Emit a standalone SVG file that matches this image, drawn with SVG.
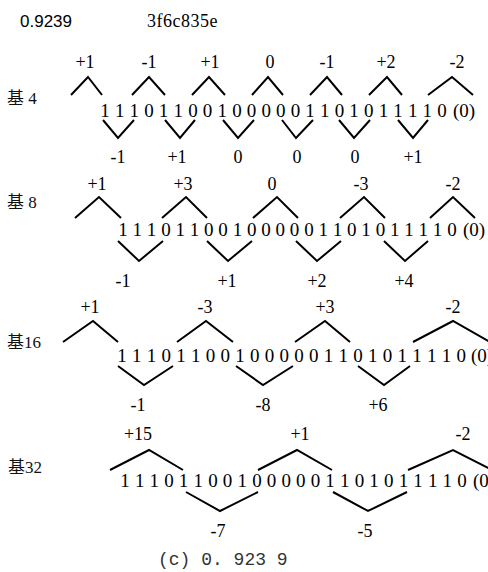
<svg xmlns="http://www.w3.org/2000/svg" width="488" height="572" viewBox="0 0 488 572">
  <style>
    .bg { fill: #ffffff; }
    .bits, .val { font-family: "Liberation Serif", "Times New Roman", serif; fill: #000; text-anchor: middle; }
    .bits { font-size: 19px; }
    .val { font-size: 18px; }
    .radix { font-family: "Liberation Serif", "Noto Sans CJK SC", serif; font-size: 17px; fill: #111; }
    .head-num { font-family: "Liberation Sans", Arial, sans-serif; font-size: 17px; fill: #000; }
    .head-hex { font-family: "Liberation Serif", "Times New Roman", serif; font-size: 18px; fill: #000; letter-spacing: 0.5px; }
    .caption { font-family: "Liberation Mono", "Courier New", monospace; font-size: 18px; fill: #333; }
    .arc { fill: none; stroke: #000; stroke-width: 2; stroke-linejoin: miter; stroke-linecap: butt; }
  </style>
  <rect class="bg" x="0" y="0" width="488" height="572"/>

  <!-- header: value and its hex encoding -->
  <g id="header">
    <text class="head-num" x="20" y="27">0.9239</text>
    <text class="head-hex" x="147" y="27">3f6c835e</text>
  </g>

  <!-- radix-4 recoding -->
  <g id="radix4">
    <text class="radix" x="7" y="104">基 4</text>
    <text class="bits" y="117" x="105 119.7 134.3 149 163.6 178.3 192.9 207.6 222.2 236.9 251.5 266.2 280.8 295.5 310.1 324.8 339.4 354.1 368.7 383.4 398 412.7 427.3 442">111011001000001101011110</text>
    <text class="bits" x="464" y="117">(0)</text>
    <g class="arcs">
      <polyline class="arc" points="71,95 88,77 102,95"/>
      <polyline class="arc" points="132,95 149,77 165,95"/>
      <polyline class="arc" points="192,95 209,77 225,95"/>
      <polyline class="arc" points="252,95 268,77 283,95"/>
      <polyline class="arc" points="310,95 327,77 342,95"/>
      <polyline class="arc" points="369,95 387,77 402,95"/>
      <polyline class="arc" points="428,95 452,77 473,95"/>
      <polyline class="arc" points="103,120 118,138 134,120"/>
      <polyline class="arc" points="165,120 180,138 195,120"/>
      <polyline class="arc" points="223,120 238,138 254,120"/>
      <polyline class="arc" points="282,120 296,138 313,120"/>
      <polyline class="arc" points="339,120 354,138 370,120"/>
      <polyline class="arc" points="398,120 413,138 428,120"/>
    </g>
    <g class="digits">
      <text class="val" x="85" y="68">+1</text>
      <text class="val" x="149" y="68">-1</text>
      <text class="val" x="210" y="68">+1</text>
      <text class="val" x="270" y="68">0</text>
      <text class="val" x="327" y="68">-1</text>
      <text class="val" x="386" y="68">+2</text>
      <text class="val" x="457" y="68">-2</text>
      <text class="val" x="118" y="163">-1</text>
      <text class="val" x="177" y="163">+1</text>
      <text class="val" x="238" y="163">0</text>
      <text class="val" x="297" y="163">0</text>
      <text class="val" x="355" y="163">0</text>
      <text class="val" x="413" y="163">+1</text>
    </g>
  </g>

  <!-- radix-8 recoding -->
  <g id="radix8">
    <text class="radix" x="7" y="208">基 8</text>
    <text class="bits" y="236" x="123 137.3 151.6 165.9 180.2 194.5 208.8 223.1 237.4 251.7 266 280.3 294.6 308.9 323.2 337.5 351.8 366.1 380.4 394.7 409 423.3 437.6 451.9">111011001000001101011110</text>
    <text class="bits" x="474" y="236">(0)</text>
    <g class="arcs">
      <polyline class="arc" points="75,218 99,197 121,218"/>
      <polyline class="arc" points="162,218 186,197 207,218"/>
      <polyline class="arc" points="253,218 277,197 298,218"/>
      <polyline class="arc" points="340,218 364,197 385,218"/>
      <polyline class="arc" points="430,218 453,197 475,218"/>
      <polyline class="arc" points="118,241 139,261 163,241"/>
      <polyline class="arc" points="207,241 228,261 252,241"/>
      <polyline class="arc" points="296,241 317,261 341,241"/>
      <polyline class="arc" points="384,241 405,261 428,241"/>
    </g>
    <g class="digits">
      <text class="val" x="97" y="190">+1</text>
      <text class="val" x="183" y="190">+3</text>
      <text class="val" x="272" y="190">0</text>
      <text class="val" x="361" y="190">-3</text>
      <text class="val" x="453" y="190">-2</text>
      <text class="val" x="123" y="287">-1</text>
      <text class="val" x="227" y="287">+1</text>
      <text class="val" x="317" y="287">+2</text>
      <text class="val" x="404" y="287">+4</text>
    </g>
  </g>

  <!-- radix-16 recoding -->
  <g id="radix16">
    <text class="radix" x="7" y="348">基16</text>
    <text class="bits" y="362" x="122 136.8 151.5 166.3 181 195.8 210.5 225.3 240 254.8 269.5 284.3 299 313.8 328.5 343.3 358 372.8 387.5 402.3 417 431.8 446.5 461.3">111011001000001101011110</text>
    <text class="bits" x="482" y="362">(0)</text>
    <g class="arcs">
      <polyline class="arc" points="63,342 93,321 118,342"/>
      <polyline class="arc" points="177,342 206,321 233,342"/>
      <polyline class="arc" points="295,342 325,321 350,342"/>
      <polyline class="arc" points="413,342 453,321 490,342"/>
      <polyline class="arc" points="118,366 144,385 173,366"/>
      <polyline class="arc" points="236,366 263,385 293,366"/>
      <polyline class="arc" points="358,366 384,385 410,366"/>
    </g>
    <g class="digits">
      <text class="val" x="90" y="313">+1</text>
      <text class="val" x="205" y="313">-3</text>
      <text class="val" x="325" y="313">+3</text>
      <text class="val" x="453" y="313">-2</text>
      <text class="val" x="138" y="411">-1</text>
      <text class="val" x="263" y="411">-8</text>
      <text class="val" x="378" y="411">+6</text>
    </g>
  </g>

  <!-- radix-32 recoding -->
  <g id="radix32">
    <text class="radix" x="8" y="473">基32</text>
    <text class="bits" y="487" x="125 139.7 154.3 169 183.6 198.3 212.9 227.6 242.2 256.9 271.5 286.2 300.8 315.5 330.1 344.8 359.4 374.1 388.7 403.4 418 432.7 447.3 462">111011001000001101011110</text>
    <text class="bits" x="484" y="487">(0)</text>
    <g class="arcs">
      <polyline class="arc" points="110,470 149,450 183,470"/>
      <polyline class="arc" points="258,470 297,450 332,470"/>
      <polyline class="arc" points="408,470 453,450 492,470"/>
      <polyline class="arc" points="186,492 220,511 258,492"/>
      <polyline class="arc" points="333,492 368,511 407,492"/>
    </g>
    <g class="digits">
      <text class="val" x="138" y="440">+15</text>
      <text class="val" x="300" y="440">+1</text>
      <text class="val" x="463" y="440">-2</text>
      <text class="val" x="218" y="537">-7</text>
      <text class="val" x="365" y="537">-5</text>
    </g>
  </g>

  <!-- caption -->
  <g id="caption">
    <text class="caption" x="158" y="565">(c) 0. 923 9</text>
  </g>
</svg>
